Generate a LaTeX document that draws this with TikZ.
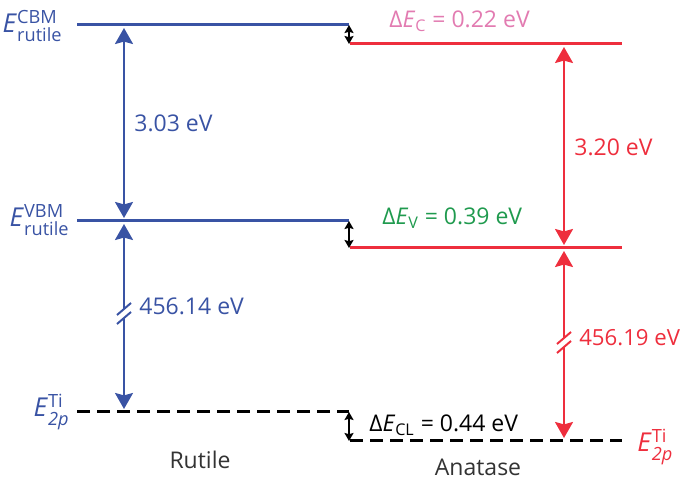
\documentclass[tikz,border=0pt]{standalone}
\usepackage{amsmath}
\usepackage{fontspec}
\setmainfont{Open Sans}
\usetikzlibrary{arrows.meta}
\definecolor{rutblue}{HTML}{3953A4}
\definecolor{anared}{HTML}{EE2E3D}
\definecolor{dcpink}{HTML}{E27BB1}
\definecolor{dvgreen}{HTML}{1F9A4E}
\definecolor{txtgray}{HTML}{333333}
\newcommand{\Elev}[2]{\textit{E}$^{\text{#1}}_{\text{#2}}$}
\begin{document}
\begin{tikzpicture}[
    x=0.5pt, y=-0.5pt,
    font=\fontsize{11.5}{13}\selectfont,
    level/.style={line width=1.5pt},
    corelevel/.style={line width=1.5pt, black, dash pattern=on 6.5pt off 3.5pt},
    gaparrow/.style={line width=1pt, {Stealth[length=8pt,width=9pt,inset=1.2pt]}-{Stealth[length=8pt,width=9pt,inset=1.2pt]}},
    uparrow/.style={line width=1pt, {Stealth[length=8pt,width=9pt,inset=1.2pt]}-},
    downarrow/.style={line width=1pt, -{Stealth[length=8pt,width=9pt,inset=1.2pt]}},
    offarrow/.style={line width=0.7pt, black, {Stealth[length=4pt,width=4.5pt,inset=0.6pt]}-{Stealth[length=4pt,width=4.5pt,inset=0.6pt]}},
    slash/.style={line width=1pt},
    lbl/.style={inner sep=0pt},
    elbl/.style={inner sep=0pt, font=\fontsize{13}{15}\selectfont}
]
    \useasboundingbox (0,0) rectangle (681,480);

    % Rutile levels
    \coordinate (rcbl) at (77,25);   \coordinate (rcbr) at (349,25);
    \coordinate (rvbl) at (77,221);  \coordinate (rvbr) at (349,221);
    \coordinate (rtil) at (77,412);  \coordinate (rtir) at (349,412);
    % Anatase levels
    \coordinate (acbl) at (350,44);  \coordinate (acbr) at (622,44);
    \coordinate (avbl) at (350,248); \coordinate (avbr) at (622,248);
    \coordinate (atil) at (350,441); \coordinate (atir) at (622,441);

    \draw [level, rutblue] (rcbl) -- (rcbr);
    \draw [level, rutblue] (rvbl) -- (rvbr);
    \draw [corelevel] (rtil) -- (rtir);
    \draw [level, anared] (acbl) -- (acbr);
    \draw [level, anared] (avbl) -- (avbr);
    \draw [corelevel] (atil) -- (atir);

    % Offsets
    \draw [offarrow] (rcbr) -- (rcbr |- acbl);
    \draw [offarrow] (rvbr) -- (rvbr |- avbl);
    \draw [offarrow] (rtir) -- (rtir |- atil);

    % Rutile arrows
    \coordinate (rgt) at (124,25);
    \coordinate (rgb) at (124,221);
    \coordinate (rbrk1) at (124,309);
    \coordinate (rbrk2) at (124,318);
    \coordinate (rcore) at (124,412);
    \draw [gaparrow, rutblue, shorten <=1.5pt, shorten >=1.5pt] (rgt) -- (rgb);
    \draw [uparrow, rutblue, shorten <=1.5pt] (rgb) -- (rbrk1);
    \draw [downarrow, rutblue, shorten >=1.5pt] (rbrk2) -- (rcore);
    \draw [slash, rutblue] ([shift={(-7,6)}]rbrk1) -- ([shift={(7,-6)}]rbrk1);
    \draw [slash, rutblue] ([shift={(-7,6)}]rbrk2) -- ([shift={(7,-6)}]rbrk2);

    % Anatase arrows
    \coordinate (agt) at (564,44);
    \coordinate (agb) at (564,248);
    \coordinate (abrk1) at (564,338);
    \coordinate (abrk2) at (564,347);
    \coordinate (acore) at (564,441);
    \draw [gaparrow, anared, shorten <=1.5pt, shorten >=1.5pt] (agt) -- (agb);
    \draw [uparrow, anared, shorten <=1.5pt] (agb) -- (abrk1);
    \draw [downarrow, anared, shorten >=1.5pt] (abrk2) -- (acore);
    \draw [slash, anared] ([shift={(-7,6)}]abrk1) -- ([shift={(7,-6)}]abrk1);
    \draw [slash, anared] ([shift={(-7,6)}]abrk2) -- ([shift={(7,-6)}]abrk2);

    % Level labels
    \node (ecbm) [elbl, rutblue, anchor=east] at (63,26) {\Elev{CBM}{rutile}};
    \node (evbm) [elbl, rutblue, anchor=east] at (70,220) {\Elev{VBM}{rutile}};
    \node (etir) [elbl, rutblue, anchor=east] at (70,412) {\Elev{Ti}{\itshape 2p}};
    \node (etia) [elbl, anared, anchor=west] at (637,447) {\Elev{Ti}{\itshape 2p}};

    % Values
    \node (grut) [lbl, rutblue, anchor=west] at (134,123) {3.03 eV};
    \node (gana) [lbl, anared, anchor=west] at (574,147) {3.20 eV};
    \node (crut) [lbl, rutblue, anchor=west] at (139,306) {456.14 eV};
    \node (cana) [lbl, anared, anchor=east, font=\fontsize{11.1}{13}\selectfont] at (680.5,338) {456.19 eV};
    \node (dec) [lbl, dcpink, anchor=west] at (389,21) {Δ\textit{E}$_{\text{C}}$ = 0.22 eV};
    \node (dev) [lbl, dvgreen, anchor=west] at (382,218) {Δ\textit{E}$_{\text{V}}$ = 0.39 eV};
    \node (decl) [lbl, black, anchor=west] at (369,425) {Δ\textit{E}$_{\text{CL}}$ = 0.44 eV};

    % Phases
    \node (rutile) [lbl, txtgray] at (200,460) {Rutile};
    \node (anatase) [lbl, txtgray] at (478,467) {Anatase};
\end{tikzpicture}
\end{document}
